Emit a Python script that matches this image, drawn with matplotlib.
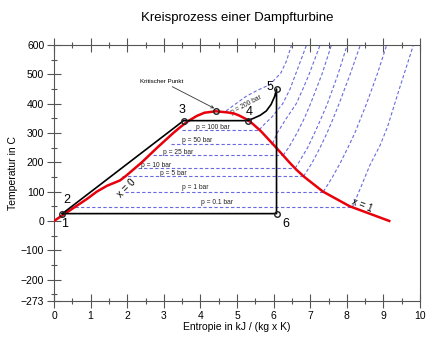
import numpy as np
import matplotlib
matplotlib.use('Agg')
import matplotlib.pyplot as plt

plt.rcParams['font.family'] = ['Liberation Sans', 'DejaVu Sans']

# saturation curve (red), entropy s and temperature T
sat_s = [0.0, 0.30, 0.60, 0.90, 1.17, 1.45, 1.80, 1.95, 2.40, 2.82, 3.26, 3.45, 3.66, 3.90, 4.11, 4.42,
         4.75, 4.93, 5.05, 5.21, 5.34, 5.44, 5.62, 5.70, 6.07, 6.43, 6.62, 6.84, 7.35, 8.08, 9.16]
sat_T = [0, 25, 50, 75, 100, 120, 138, 152, 200, 250, 300, 320, 340, 358, 369, 374,
         370, 366, 360, 350, 340, 330, 310, 300, 250, 200, 175, 150, 100, 50, 0]

# cycle (black)
cyc_s = [0.23, 3.54, 5.29, 5.45, 5.63, 5.80, 5.93, 6.03, 6.08, 6.08, 0.23]
cyc_T = [25, 342, 342, 350, 360, 375, 397, 425, 450, 25, 25]

# state points
pt_s = [0.23, 3.54, 4.42, 5.29, 6.08, 6.08]
pt_T = [25, 342, 374, 342, 450, 25]
pt_labels = ['1', '2', '3', '4', '5', '6']

# isobars: horizontal part (start s, T) and superheated part
iso_names = ['p = 200 bar', 'p = 100 bar', 'p = 50 bar', 'p = 25 bar',
             'p = 10 bar', 'p = 5 bar', 'p = 1 bar', 'p = 0.1 bar']
iso_start = [None, 3.50, 3.20, 2.70, 2.30, 1.86, 1.95, 0.58]
iso_Tsat = [None, 311, 264, 224, 180, 152, 100, 46]
iso_sup_s = [
    [4.70, 4.95, 5.25, 5.55, 5.90, 6.20, 6.35, 6.49],
    [5.61, 5.75, 5.95, 6.25, 6.45, 6.60, 6.90],
    [5.97, 6.10, 6.35, 6.62, 6.80, 6.97, 7.27],
    [6.26, 6.41, 6.64, 6.84, 7.01, 7.32, 7.58],
    [6.59, 6.69, 6.93, 7.12, 7.30, 7.47, 7.76, 8.01],
    [6.82, 7.06, 7.27, 7.46, 7.63, 7.79, 8.09, 8.37],
    [7.36, 7.61, 7.83, 8.03, 8.22, 8.54, 8.83, 9.09],
    [8.15, 8.40, 8.63, 8.91, 9.11, 9.45, 9.82],
]
iso_sup_T = [
    [375, 398, 425, 445, 465, 505, 545, 600],
    [311, 330, 354, 400, 450, 500, 600],
    [264, 300, 350, 400, 450, 500, 600],
    [224, 250, 300, 350, 400, 500, 600],
    [180, 200, 250, 300, 350, 400, 500, 600],
    [152, 200, 250, 300, 350, 400, 500, 600],
    [100, 150, 200, 250, 300, 400, 500, 600],
    [46, 120, 190, 258, 320, 456, 600],
]
# label positions of isobar names
lab_s = [5.25, 4.35, 3.90, 3.40, 2.80, 3.26, 3.85, 4.44]
lab_T = [394, 320, 274, 235, 190, 163, 113, 63]

fig = plt.figure(figsize=(4.4, 3.42), dpi=100)
ax = fig.add_axes([54 / 440, 1 - 301 / 342, 366 / 440, 256 / 342])

blue = '#6a6ae0'
for i in range(len(iso_names)):
    if iso_start[i] is not None:
        ax.plot([iso_start[i], iso_sup_s[i][0]], [iso_Tsat[i], iso_Tsat[i]],
                color=blue, lw=0.8, dashes=(3, 2))
        rot = 0
    else:
        rot = 28
    ax.text(lab_s[i], lab_T[i], iso_names[i], fontsize=4.8, ha='center', va='center',
            rotation=rot, color='#222222')
    ax.plot(iso_sup_s[i], iso_sup_T[i], color=blue, lw=0.8, dashes=(3, 2))

ax.plot(sat_s, sat_T, color='#e8000b', lw=1.8, zorder=3)
ax.plot(cyc_s, cyc_T, color='black', lw=1.2, zorder=4)
ax.plot(pt_s, pt_T, 'o', ms=4, mfc='none', mec='#222222', mew=1, zorder=5)

lbl_pos = [(0.30, -10), (0.35, 70), (3.49, 380), (5.33, 372), (5.90, 458), (6.33, -10)]
for lab, (xs, yt) in zip(pt_labels, lbl_pos):
    ax.text(xs, yt, lab, fontsize=9, ha='center', va='center')

ax.annotate('Kritischer Punkt', xy=(4.38, 384), xytext=(2.95, 476),
            fontsize=4.5, ha='center', va='center',
            arrowprops=dict(arrowstyle='->', lw=0.6, color='#333333',
                            shrinkA=0, shrinkB=0))
ax.text(1.98, 110, 'x = 0', fontsize=7, rotation=45, ha='center', va='center')
ax.text(8.42, 52, 'x = 1', fontsize=7, rotation=-22, ha='center', va='center')

ax.set_xlim(0, 10)
ax.set_ylim(-273, 600)
ax.set_xticks(range(0, 11))
ax.set_xticks(np.arange(0.5, 10, 1), minor=True)
ax.set_yticks([-273, -200, -100, 0, 100, 200, 300, 400, 500, 600])
ax.set_yticks(np.arange(-250, 600, 100), minor=True)

axc = '#555555'
for sp in ax.spines.values():
    sp.set_color(axc)
ax.tick_params(which='major', direction='inout', length=10, width=0.8, color=axc,
               labelsize=7.5, top=True, right=False, pad=2)
ax.tick_params(which='minor', direction='inout', length=5, width=0.8, color=axc,
               top=True, right=False)

ax.set_xlabel('Entropie in kJ / (kg x K)', fontsize=7.5, labelpad=1)
ax.set_ylabel('Temperatur in C', fontsize=7.5, labelpad=2)
fig.suptitle('Kreisprozess einer Dampfturbine', fontsize=9.5, x=0.54, y=0.965)

fig.savefig('out.png', dpi=100)
